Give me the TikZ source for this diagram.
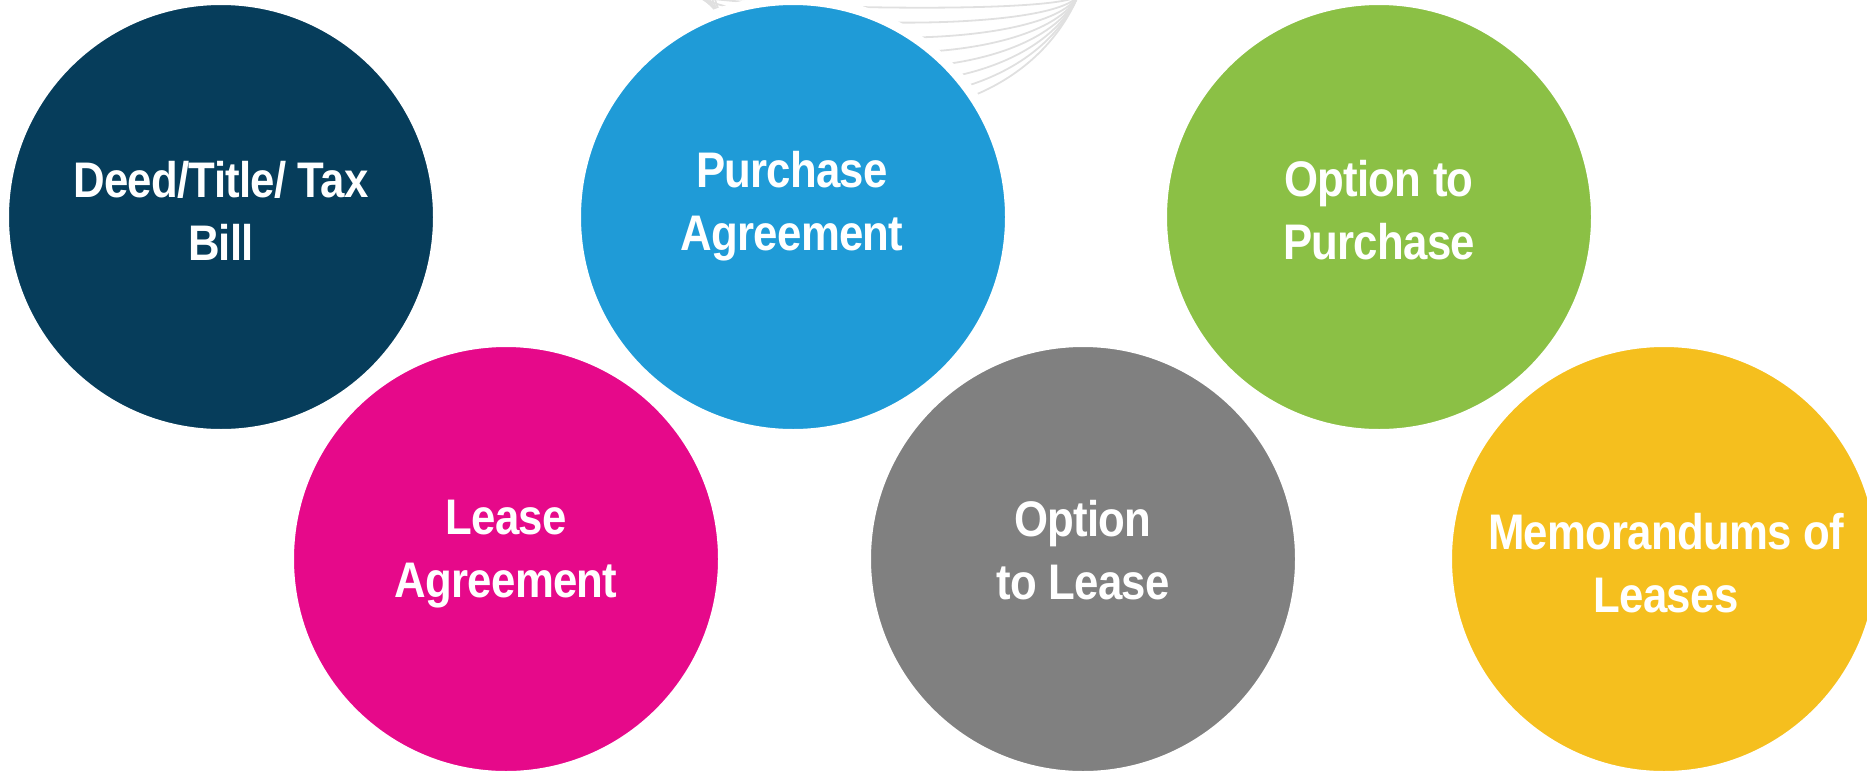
\documentclass[tikz,border=0pt]{standalone}
\usepackage{fontspec}
\setmainfont{Liberation Sans}[FakeStretch=0.875, LetterSpace=-1.5]
\definecolor{cdeed}{HTML}{063D5B}
\definecolor{cpurch}{HTML}{1F9BD7}
\definecolor{coptp}{HTML}{8BC045}
\definecolor{clease}{HTML}{E6098A}
\definecolor{coptl}{HTML}{808080}
\definecolor{cmemo}{HTML}{F5BF1E}
\definecolor{fanline}{HTML}{E0E0E0}
\begin{document}
\begin{tikzpicture}[x=1pt,y=-1pt,
  disc/.style={circle, minimum size=434pt, inner sep=0pt, draw=white, line width=10pt},
  lbl/.style={text=white, font=\fontsize{50}{63}\selectfont\bfseries, align=center, inner sep=0pt},
  fan/.style={draw=fanline, line width=1.8pt}]
\useasboundingbox (0,0) rectangle (1867,771);
% faint fan of curves behind the top middle circle
\foreach \t in {1,...,8}{
  \draw[fan] (1078,-4) .. controls ({1062-6*\t},{19*\t-5}) and (760,{21*\t-12}) .. ({690+3*\t},-4);
}
% discs
\node[disc, fill=cdeed]  (deed)  at (221,217) {};
\node[disc, fill=cpurch] (purch) at (793,217) {};
\node[disc, fill=coptp]  (optp)  at (1379,217) {};
\node[disc, fill=clease] (lease) at (506,559) {};
\node[disc, fill=coptl]  (optl)  at (1083,559) {};
\node[disc, fill=cmemo]  (memo)  at (1664,559) {};
% labels
\node[lbl] (deedt)  at (221,211)  {Deed/Title/ Tax\\Bill};
\node[lbl] (purcht) at (792,206)  {Purchase\\Agreement};
\node[lbl] (optpt)  at (1379,210) {Option to\\Purchase};
\node[lbl] (leaset) at (506,554)  {Lease\\Agreement};
\node[lbl] (optlt)  at (1083,550) {Option\\to Lease};
\node[lbl] (memot)  at (1666,563) {Memorandums of\\Leases};
\end{tikzpicture}
\end{document}
